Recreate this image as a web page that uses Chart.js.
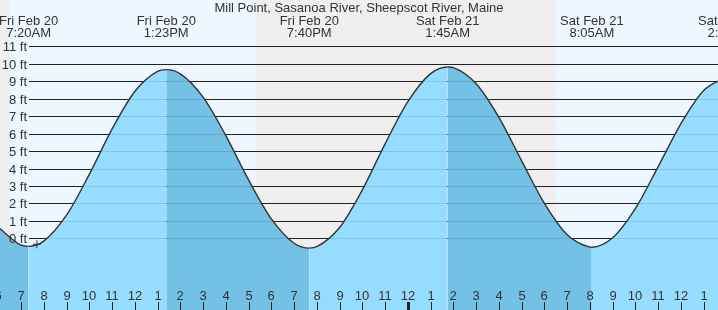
<!DOCTYPE html>
<html>
<head>
<meta charset="utf-8">
<script src="https://cdn.jsdelivr.net/npm/chart.js@4.4.1/dist/chart.umd.min.js"></script>
<style>
  body { margin: 0; background: #efefef; }
  canvas { display: block; }
</style>
</head>
<body>
<canvas id="canvas" width="718" height="310"></canvas>
<script>
// hours counted from Fri Feb 20 00:00
let tideHours = [6, 7, 7.333, 8, 9, 10, 11, 12, 13, 13.383, 14, 15, 16, 17, 18, 19, 19.667, 20, 21, 22, 23, 24, 25, 25.75, 26, 27, 28, 29, 30, 31, 32, 32.083, 33, 34, 35, 36, 37, 38.15]
let tideFeet = [0.65, -0.38, -0.45, -0.15, 1.33, 3.66, 6.25, 8.40, 9.55, 9.65, 9.41, 8.08, 5.88, 3.35, 1.12, -0.27, -0.55, -0.47, 0.63, 2.78, 5.41, 7.82, 9.42, 9.80, 9.76, 8.84, 6.92, 4.44, 2.01, 0.22, -0.49, -0.50, 0.04, 1.72, 4.11, 6.57, 8.46, 9.30]

let extremeHours = [7.333, 13.383, 19.667, 25.75, 32.083, 38.15]
let extremeDays = ['Fri Feb 20', 'Fri Feb 20', 'Fri Feb 20', 'Sat Feb 21', 'Sat Feb 21', 'Sat Feb 21']
let extremeTimes = ['7:20AM', '1:23PM', '7:40PM', '1:45AM', '8:05AM', '2:09PM']

let sunrise = [6.52, 30.5]
let sunset = [17.32, 42]

let feetTicks = [0, 1, 2, 3, 4, 5, 6, 7, 8, 9, 10, 11]
let feetLabels = ['0 ft', '1 ft', '2 ft', '3 ft', '4 ft', '5 ft', '6 ft', '7 ft', '8 ft', '9 ft', '10 ft', '11 ft']

let hourTicks = [6, 7, 8, 9, 10, 11, 12, 13, 14, 15, 16, 17, 18, 19, 20, 21, 22, 23, 24, 25, 26, 27, 28, 29, 30, 31, 32, 33, 34, 35, 36, 37]
let hourLabels = ['6', '7', '8', '9', '10', '11', '12', '1', '2', '3', '4', '5', '6', '7', '8', '9', '10', '11', '12', '1', '2', '3', '4', '5', '6', '7', '8', '9', '10', '11', '12', '1']

let nowHour = [7.7]
let nowFeet = [-0.33]

let title = 'Mill Point, Sasanoa River, Sheepscot River, Maine'

const textColor = '#333'
const font = '13px "Liberation Sans", Arial, sans-serif'
const risingFill = 'rgba(140, 217, 255, 0.9)'
const fallingFill = 'rgba(101, 187, 227, 0.9)'

var ctx = canvas.getContext('2d');

var tidePlugin = {
    id: 'tidePlugin',
    beforeDraw(chart) {
        const c = chart.ctx
        const x = chart.scales.x
        c.save()
        c.fillStyle = '#efefef'
        c.fillRect(0, 0, chart.width, chart.height)
        c.fillStyle = '#eef7ff'
        for (let i = 0; i < sunrise.length; i++) {
            let x1 = Math.round(x.getPixelForValue(sunrise[i]))
            let x2 = Math.round(x.getPixelForValue(sunset[i]))
            c.fillRect(x1, 0, x2 - x1, chart.height)
        }
        c.restore()
    },
    beforeDatasetsDraw(chart) {
        const c = chart.ctx
        const y = chart.scales.y
        c.save()
        c.fillStyle = '#222'
        for (let i = 0; i < feetTicks.length; i++) {
            let py = Math.round(y.getPixelForValue(feetTicks[i]))
            c.fillRect(29, py, chart.width - 29, 1)
        }
        c.restore()
    },
    afterDatasetsDraw(chart) {
        const c = chart.ctx
        const x = chart.scales.x
        const y = chart.scales.y
        c.save()
        c.font = font
        c.fillStyle = textColor
        c.textAlign = 'right'
        for (let i = 0; i < feetTicks.length; i++) {
            let py = Math.round(y.getPixelForValue(feetTicks[i]))
            c.fillText(feetLabels[i], 27, py + 5)
        }
        c.textAlign = 'center'
        c.fillText(title, chart.width / 2, 12)
        for (let i = 0; i < extremeHours.length; i++) {
            let px = x.getPixelForValue(extremeHours[i])
            c.fillText(extremeDays[i], px, 25)
            c.fillText(extremeTimes[i], px, 37)
        }
        // hour ticks along the bottom, midnight drawn heavier
        for (let i = 0; i < hourTicks.length; i++) {
            let px = Math.round(x.getPixelForValue(hourTicks[i]))
            c.fillStyle = textColor
            c.fillText(hourLabels[i], px, 300)
            c.fillStyle = '#222'
            if (hourTicks[i] === 24) {
                c.fillRect(px - 1, 302, 3, 8)
            } else {
                c.fillRect(px, 302, 1, 8)
            }
        }
        c.restore()
    }
}

var config = {
    type: 'line',
    data: {
        datasets: [{
            data: nowHour.map((h, i) => ({ x: h, y: nowFeet[i] })),
            showLine: false,
            pointStyle: 'cross',
            pointRadius: 4,
            borderColor: textColor,
            borderWidth: 1,
            order: 0
        }, {
            data: tideHours.map((h, i) => ({ x: h, y: tideFeet[i] })),
            borderColor: '#333',
            borderWidth: 1.4,
            backgroundColor: risingFill,
            fill: 'start',
            pointRadius: 0,
            cubicInterpolationMode: 'monotone',
            segment: {
                backgroundColor: s => s.p1.parsed.y < s.p0.parsed.y ? fallingFill : risingFill
            },
            order: 1
        }]
    },
    options: {
        responsive: false,
        animation: false,
        layout: { padding: 0, autoPadding: false },
        plugins: { legend: { display: false }, tooltip: { enabled: false } },
        scales: {
            x: { type: 'linear', min: 6.077, max: 37.628, display: false },
            y: { type: 'linear', min: -4.086, max: 13.629, display: false }
        }
    },
    plugins: [tidePlugin]
};

let myChart = new Chart(ctx, config);
</script>
</body>
</html>
